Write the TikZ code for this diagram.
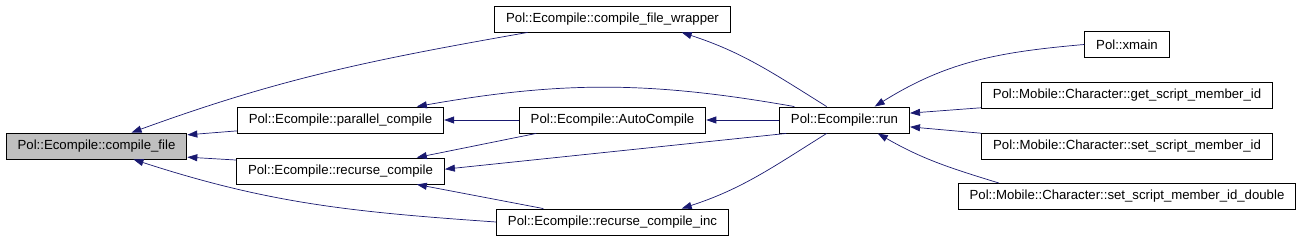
\documentclass[tikz,border=0pt]{standalone}
\usepackage{fontspec}
\setmainfont{Liberation Sans}
\usepackage{tikz}
\usetikzlibrary{arrows.meta}
\definecolor{callblue}{HTML}{191970}
\definecolor{callgray}{HTML}{BFBFBF}
\tikzset{
  callfn/.style={
    draw=black,
    line width=0.9pt,
    fill=white,
    minimum height=26pt,
    inner xsep=11.5pt,
    inner ysep=0pt,
    font=\fontsize{13.2}{15}\selectfont
  },
  callroot/.style={callfn,fill=callgray},
  callflow/.style={-{Triangle[length=10pt,width=7pt]},line width=0.7pt,callblue}
}

\begin{document}
\begin{tikzpicture}[x=1pt,y=1pt]
  \useasboundingbox (0,0) rectangle (1301,-240);

  \node[callroot] (cfile) at (96.5,-146) {Pol::Ecompile::compile\_file};

  \node[callfn] (pcomp) at (340.5,-120) {Pol::Ecompile::parallel\_compile};
  \node[callfn] (rcomp) at (340.5,-171) {Pol::Ecompile::recurse\_compile};

  \node[callfn] (wrap) at (612.5,-19) {Pol::Ecompile::compile\_file\_wrapper};
  \node[callfn] (autocomp) at (612.5,-120) {Pol::Ecompile::AutoCompile};
  \node[callfn] (rinc) at (612.5,-222) {Pol::Ecompile::recurse\_compile\_inc};

  \node[callfn] (run) at (844.5,-120) {Pol::Ecompile::run};

  \node[callfn] (xmain) at (1127,-44.5) {Pol::xmain};
  \node[callfn] (getid) at (1127,-95) {Pol::Mobile::Character::get\_script\_member\_id};
  \node[callfn] (setid) at (1127,-146) {Pol::Mobile::Character::set\_script\_member\_id};
  \node[callfn] (setdbl) at (1127,-196.5) {Pol::Mobile::Character::set\_script\_member\_id\_double};

  % callers of compile_file
  \draw[callflow] (wrap.189) to[out=190,in=20] (cfile.21);
  \draw[callflow] (pcomp.186) -- (cfile.7);
  \draw[callflow] (rcomp.174) -- (cfile.-7);
  \draw[callflow] (rinc.west) to[out=176,in=-18] (cfile.-20);

  % second column
  \draw[callflow] (autocomp) -- (pcomp);
  \draw[callflow] (run.165) to[out=170,in=10] (pcomp.10);
  \draw[callflow] (autocomp.190) -- (rcomp.10);
  \draw[callflow] (run.193) -- (rcomp.1);
  \draw[callflow] (rinc.169) -- (rcomp.-10);

  % run
  \draw[callflow] (run) -- (autocomp);
  \draw[callflow] (run.143) to[out=148,in=-18] (wrap.-11);
  \draw[callflow] (run.-143) to[out=-148,in=18] (rinc.11);

  % callers of run
  \draw[callflow] (xmain.west) to[out=185,in=32] (run.24);
  \draw[callflow] (getid.185) -- (run.6);
  \draw[callflow] (setid.175) -- (run.-6);
  \draw[callflow] (setdbl.174) to[out=163,in=-30] (run.-22);
\end{tikzpicture}
\end{document}
